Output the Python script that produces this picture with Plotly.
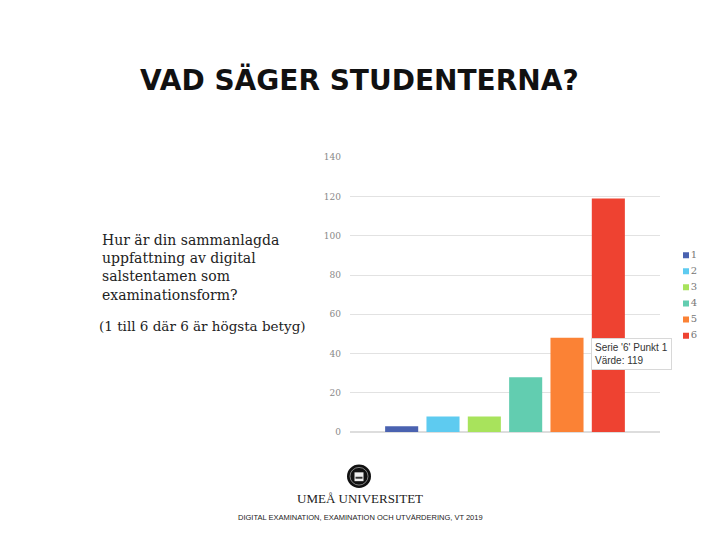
import plotly.graph_objects as go

# Data
categories = ["1", "2", "3", "4", "5", "6"]
values = [3, 8, 8, 28, 48, 119]
colors = ["#4a62b0", "#5ecbf0", "#a8e35c", "#62cdb0", "#fb8235", "#ee4231"]
y_ticks = [0, 20, 40, 60, 80, 100, 120, 140]

title_text = "VAD SÄGER STUDENTERNA?"
question_lines = ["Hur är din sammanlagda", "uppfattning av digital",
                  "salstentamen som", "examinationsform?"]
scale_note = "(1 till 6 där 6 är högsta betyg)"
tooltip_lines = ["Serie '6' Punkt 1", "Värde: 119"]
university = "UMEÅ UNIVERSITET"
footer = "DIGITAL EXAMINATION, EXAMINATION OCH UTVÄRDERING, VT 2019"

W, H = 720, 540
OFF = 8  # page body margin offset

def px(x):
    return (x - OFF) / W

def py(y):
    return 1 - (y - OFF) / H

fig = go.Figure()

for cat, val, col in zip(categories, values, colors):
    fig.add_trace(go.Bar(x=[""], y=[val], name=cat, marker_color=col,
                         marker_line_width=0, showlegend=False))

# Compact legend drawn as a scatter on its own small axes
fig.add_trace(go.Scatter(
    x=[0.15] * len(categories), y=list(range(1, len(categories) + 1)),
    mode="markers+text", text=categories, textposition="middle right",
    textfont=dict(family="DejaVu Serif", size=10, color="#777777"),
    marker=dict(symbol="square", size=6, color=colors),
    xaxis="x2", yaxis="y2", showlegend=False, hoverinfo="skip"))

fig.update_layout(
    width=W, height=H,
    margin=dict(l=0, r=0, t=0, b=0),
    paper_bgcolor="white", plot_bgcolor="white",
    barmode="group", bargap=0.2, bargroupgap=0.2,
    showlegend=False,
    xaxis=dict(domain=[px(350), px(660)], showticklabels=False, showgrid=False,
               zeroline=False, showline=False, fixedrange=True),
    yaxis=dict(domain=[py(435), py(155)], range=[0, 140], tickvals=y_ticks,
               showgrid=True, gridcolor="#e2e2e2", gridwidth=1,
               zeroline=True, zerolinecolor="#dddddd", showline=False,
               ticks="", ticklabelstandoff=8,
               tickfont=dict(family="DejaVu Serif", size=9, color="#888888")),
    xaxis2=dict(domain=[px(680), px(720)], range=[0, 1], visible=False,
                anchor="y2"),
    yaxis2=dict(domain=[py(345), py(246.5)], range=[6.5, 0.5], visible=False,
                anchor="x2"),
)

annotations = [
    dict(text=title_text, x=px(359), y=py(76), xref="paper", yref="paper",
         xanchor="center", yanchor="middle", showarrow=False,
         font=dict(family="DejaVu Sans", size=28, color="#111111", weight="bold")),
    dict(text="<br>".join(question_lines), x=px(100), y=py(229), xref="paper",
         yref="paper", xanchor="left", yanchor="top", align="left",
         showarrow=False,
         font=dict(family="DejaVu Serif", size=14, color="#222222")),
    dict(text=scale_note, x=px(97), y=py(327), xref="paper", yref="paper",
         xanchor="left", yanchor="middle", align="left", showarrow=False,
         font=dict(family="DejaVu Serif", size=13.5, color="#222222")),
    dict(text="<br>".join(tooltip_lines), x=px(591), y=py(339), xref="paper",
         yref="paper", xanchor="left", yanchor="top", align="left",
         showarrow=False, bgcolor="white", bordercolor="#d8d8d8",
         borderwidth=1, borderpad=3,
         font=dict(family="Liberation Sans", size=10, color="#333333")),
    dict(text=university, x=px(360), y=py(503), xref="paper", yref="paper",
         xanchor="center", yanchor="middle", showarrow=False,
         font=dict(family="Liberation Serif", size=13, color="#222222")),
    dict(text=footer, x=px(360), y=py(522), xref="paper", yref="paper",
         xanchor="center", yanchor="middle", showarrow=False,
         font=dict(family="Liberation Sans", size=7.5, color="#222222")),
]
fig.update_layout(annotations=annotations)

# Tooltip shadow and university logo (simple seal)
shapes = [
    dict(type="rect", xref="paper", yref="paper", x0=px(592), x1=px(670),
         y0=py(371), y1=py(341), fillcolor="rgba(0,0,0,0.10)",
         line=dict(width=0)),
    dict(type="circle", xref="paper", yref="paper", x0=px(347), x1=px(371),
         y0=py(492), y1=py(468), fillcolor="#111111", line=dict(width=0)),
    dict(type="circle", xref="paper", yref="paper", x0=px(350), x1=px(368),
         y0=py(489), y1=py(471), fillcolor="rgba(0,0,0,0)",
         line=dict(width=0.6, color="#cccccc")),
    dict(type="rect", xref="paper", yref="paper", x0=px(354.5), x1=px(363.5),
         y0=py(485), y1=py(476), fillcolor="#eeeeee", line=dict(width=0)),
    dict(type="rect", xref="paper", yref="paper", x0=px(355.5), x1=px(362.5),
         y0=py(482.5), y1=py(480.5), fillcolor="#333333", line=dict(width=0)),
]
fig.update_layout(shapes=shapes)

fig.write_html("out.html")
